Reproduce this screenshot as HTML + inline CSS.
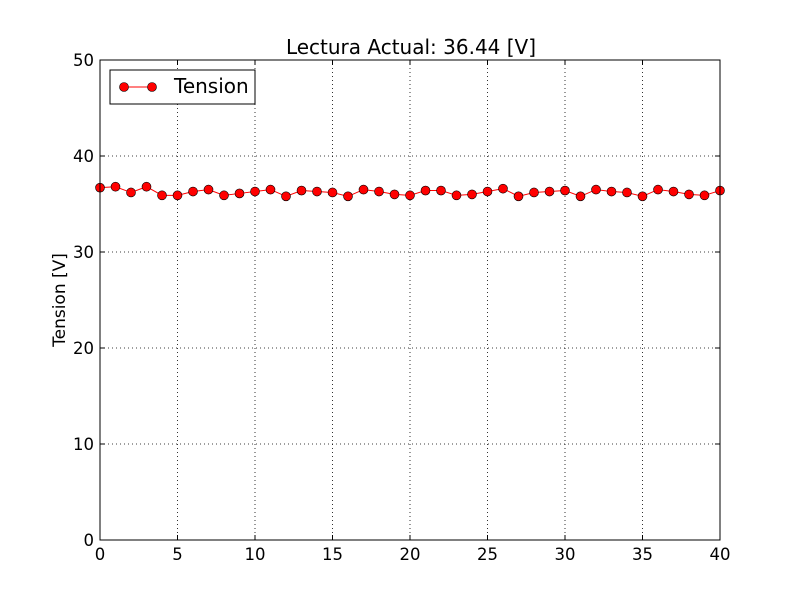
<!DOCTYPE html>
<html><head><meta charset="utf-8"><style>
body{margin:0;background:#fff;}
svg text{font-family:"DejaVu Sans","Liberation Sans",sans-serif;}
</style></head><body>
<svg id="chart" width="800" height="600" xmlns="http://www.w3.org/2000/svg">
<rect width="800" height="600" fill="#fff"/>
<g id="grid"></g>
<g id="ticks"></g>
<g id="series"></g>
<rect x="100" y="60" width="620" height="480" fill="none" stroke="#000" stroke-width="1"/>
<text x="411" y="54" text-anchor="middle" font-size="20">Lectura Actual: 36.44 [V]</text>
<text transform="translate(65,300) rotate(-90)" text-anchor="middle" font-size="17">Tension [V]</text>
<g>
<rect x="110" y="70" width="145" height="34" fill="#fff" stroke="#000"/>
<line x1="124" y1="87" x2="152" y2="87" stroke="#f00"/>
<circle cx="124" cy="87" r="4.5" fill="#f00" stroke="#000" stroke-width="0.6"/>
<circle cx="152" cy="87" r="4.5" fill="#f00" stroke="#000" stroke-width="0.6"/>
<text x="174" y="93" font-size="20">Tension</text>
</g>
</svg>
<script>
const xTicks=[0,5,10,15,20,25,30,35,40];
const yTicks=[0,10,20,30,40,50];
const tension=[36.7,36.8,36.2,36.8,35.9,35.9,36.3,36.5,35.9,36.1,36.3,36.5,35.8,36.4,36.3,36.2,35.8,36.5,36.3,36.0,35.9,36.4,36.4,35.9,36.0,36.3,36.6,35.8,36.2,36.3,36.4,35.8,36.5,36.3,36.2,35.8,36.5,36.3,36.0,35.9,36.4];
const NS="http://www.w3.org/2000/svg";
const X=v=>100+v*620/40, Y=v=>540-v*480/50;
function mk(t,a,p){const e=document.createElementNS(NS,t);for(const k in a)e.setAttribute(k,a[k]);p.appendChild(e);return e;}
const g=document.getElementById('grid'),tk=document.getElementById('ticks'),s=document.getElementById('series');
xTicks.forEach(v=>{const x=X(v);
 if(v>0&&v<40){const l=mk('line',{x1:x,y1:60,x2:x,y2:540,stroke:'#000','stroke-dasharray':'1,3','stroke-width':0.8},g);
 
 }
 mk('line',{x1:x,y1:540,x2:x,y2:535,stroke:'#000'},tk);mk('line',{x1:x,y1:60,x2:x,y2:65,stroke:'#000'},tk);
 const t=mk('text',{x:x,y:560,'text-anchor':'middle','font-size':16.5},tk);t.textContent=v;
 
 });
yTicks.forEach(v=>{const y=Y(v);
 if(v>0&&v<50){const l=mk('line',{x1:100,y1:y,x2:720,y2:y,stroke:'#000','stroke-dasharray':'1,3','stroke-width':0.8},g);
 
 }
 mk('line',{x1:100,y1:y,x2:105,y2:y,stroke:'#000'},tk);mk('line',{x1:720,y1:y,x2:715,y2:y,stroke:'#000'},tk);
 const t=mk('text',{x:94,y:y+6,'text-anchor':'end','font-size':16.5},tk);t.textContent=v;
 
 });
const pl=mk('polyline',{points:tension.map((v,i)=>X(i)+','+Y(v)).join(' '),fill:'none',stroke:'#f00','stroke-width':1},s);


tension.forEach((v,i)=>{const c=mk('circle',{cx:X(i),cy:Y(v),r:4.5,fill:'#f00',stroke:'#000','stroke-width':0.6},s);
 
 });
</script>
</body></html>
